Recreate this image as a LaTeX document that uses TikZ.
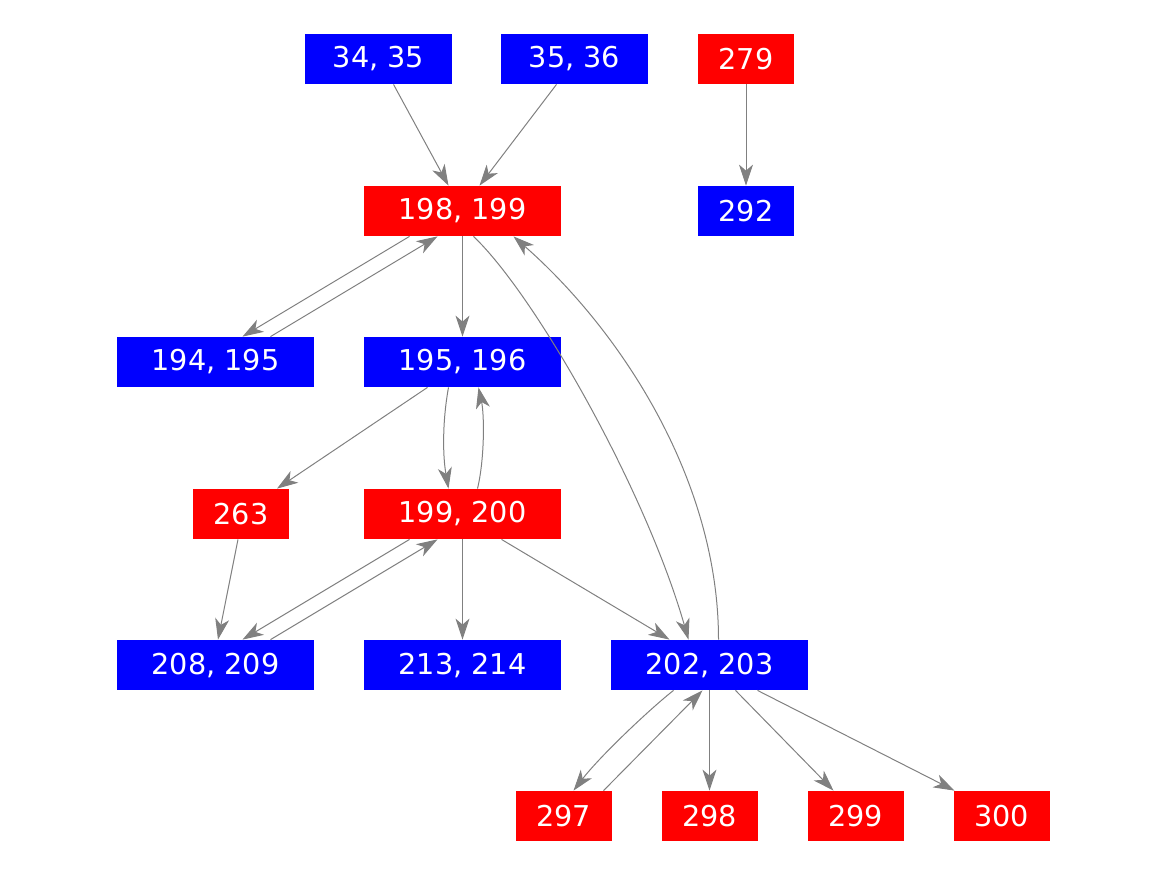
\documentclass[tikz,border=0pt]{standalone}
\usepackage{fontspec}
\setmainfont{DejaVu Sans}
\usetikzlibrary{arrows.meta,calc}
\definecolor{edgegray}{RGB}{128,128,128}
\definecolor{nblue}{RGB}{0,0,255}
\definecolor{nred}{RGB}{255,0,0}
\begin{document}
\begin{tikzpicture}[x=0.5pt,y=-0.5pt,
  box/.style={inner sep=0pt, text=white, font=\fontsize{14.35pt}{16pt}\selectfont},
  wide/.style={box, minimum width=98.5pt, minimum height=25pt},
  mid/.style={box, minimum width=73.5pt, minimum height=25pt},
  narrow/.style={box, minimum width=48pt, minimum height=25pt},
  bluebox/.style={fill=nblue},
  redbox/.style={fill=nred},
  edge/.style={draw=edgegray, line width=0.5pt, -{Stealth[length=10.5pt,width=7pt,inset=3pt]}}]
\useasboundingbox (0,0) rectangle (1167,875);
% nodes
\node[mid,bluebox] (n34) at (378.5,59) {34, 35};
\node[mid,bluebox] (n35) at (574.5,59) {35, 36};
\node[narrow,redbox] (n279) at (746,59) {279};
\node[wide,redbox] (n198) at (462.5,211) {198, 199};
\node[narrow,bluebox] (n292) at (746,211) {292};
\node[wide,bluebox] (n194) at (215.5,362) {194, 195};
\node[wide,bluebox] (n195) at (462.5,362) {195, 196};
\node[narrow,redbox] (n263) at (241,514) {263};
\node[wide,redbox] (n199) at (462.5,514) {199, 200};
\node[wide,bluebox] (n208) at (215.5,665) {208, 209};
\node[wide,bluebox] (n213) at (462.5,665) {213, 214};
\node[wide,bluebox] (n202) at (709.5,665) {202, 203};
\node[narrow,redbox] (n297) at (563.5,816) {297};
\node[narrow,redbox] (n298) at (709.5,816) {298};
\node[narrow,redbox] (n299) at (855.5,816) {299};
\node[narrow,redbox] (n300) at (1001.5,816) {300};
% edges
\draw[edge] ($(n34.south)+(15,0)$) -- ($(n198.north)+(-14,0)$);
\draw[edge] ($(n35.south)+(-18,0)$) -- ($(n198.north)+(17,0)$);
\draw[edge] (n279.south) -- (n292.north);
\draw[edge] ($(n198.south)+(-53,0)$) -- ($(n194.north)+(27,0)$);
\draw[edge] ($(n194.north)+(55,0)$) -- ($(n198.south)+(-25,0)$);
\draw[edge] (n198.south) -- (n195.north);
\draw[edge] ($(n198.south)+(11,0)$) .. controls +(62,59) and +(-43,-150) .. ($(n202.north)+(-21,0)$);
\draw[edge] ($(n202.north)+(9,0)$) .. controls +(0,-160) and +(107,94) .. ($(n198.south)+(51,0)$);
\draw[edge] ($(n195.south)+(-35,0)$) -- ($(n263.north)+(36,0)$);
\draw[edge] ($(n195.south)+(-14,0)$) .. controls +(-6,33) and +(-6,-34) .. ($(n199.north)+(-14,0)$);
\draw[edge] ($(n199.north)+(15,0)$) .. controls +(7,-29) and +(6,28) .. ($(n195.south)+(16,0)$);
\draw[edge] ($(n263.south)+(-3,0)$) -- ($(n208.north)+(2.5,0)$);
\draw[edge] ($(n199.south)+(-53,0)$) -- ($(n208.north)+(27,0)$);
\draw[edge] ($(n208.north)+(55,0)$) -- ($(n199.south)+(-25,0)$);
\draw[edge] (n199.south) -- (n213.north);
\draw[edge] ($(n199.south)+(39,0)$) -- ($(n202.north)+(-40,0)$);
\draw[edge] ($(n202.south)+(-36,0)$) .. controls +(-23,18) and +(27,-35) .. ($(n297.north)+(10,0)$);
\draw[edge] ($(n297.north)+(40,0)$) -- ($(n202.south)+(-7,0)$);
\draw[edge] (n202.south) -- (n298.north);
\draw[edge] ($(n202.south)+(26,0)$) -- ($(n299.north)+(-22,0)$);
\draw[edge] ($(n202.south)+(48,0)$) -- ($(n300.north)+(-47,0)$);
\end{tikzpicture}
\end{document}
